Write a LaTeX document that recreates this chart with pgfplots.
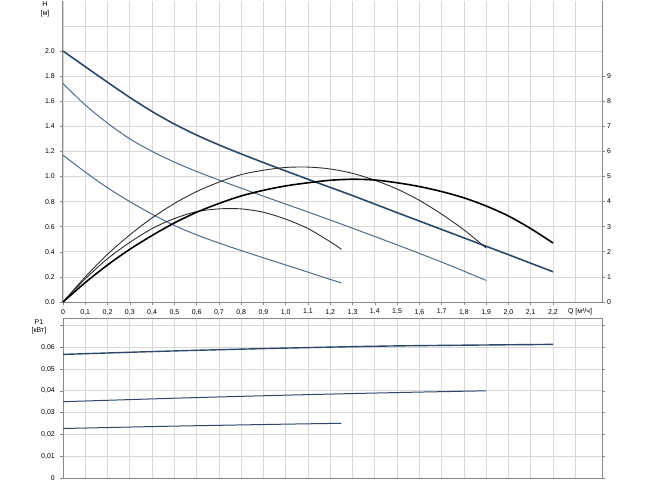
\documentclass[border=0pt]{standalone}
\usepackage{fontspec}
\setmainfont{Liberation Sans}
\usepackage{pgfplots}
\pgfplotsset{compat=1.18}
\definecolor{gridc}{HTML}{D8D8D8}
\definecolor{axc}{HTML}{888888}
\definecolor{bluethick}{HTML}{2B4A6B}
\definecolor{bluethin}{HTML}{506B88}
\definecolor{blk}{HTML}{2E2E2E}
\begin{document}
\begin{tikzpicture}[x=1bp,y=1bp]
\pgfplotsset{
  every axis/.append style={
    scale only axis, width=539bp,
    font=\fontsize{7}{8}\selectfont,
    /pgf/number format/assume math mode=true,
    scaled ticks=false,
    grid style={draw=gridc, line width=0.7bp},
    minor grid style={draw=gridc, line width=0.7bp},
    tick style={draw=axc, line width=0.6bp},
    tick align=outside, major tick length=3bp, minor tick length=0bp,
    xmin=0, xmax=2.42,
    every outer x axis line/.style={-},
    every outer y axis line/.style={-},
    axis line style={draw=axc, line width=1bp, -},
    xtick={0,0.1,0.2,0.3,0.4,0.5,0.6,0.7,0.8,0.9,1.0,1.1,1.2,1.3,1.4,1.5,1.6,1.7,1.8,1.9,2.0,2.1,2.2},
    minor xtick={2.3},
  }
}
% ---------------- top panel: H ----------------
\begin{axis}[at={(0,0)}, anchor=south west, height=301.2bp,
  ymin=0, ymax=2.4,
  axis x line*=bottom, axis y line*=left,
  xticklabels={0,{0,1},{0,2},{0,3},{0,4},{0,5},{0,6},{0,7},{0,8},{0,9},{1,0},{1,1},{1,2},{1,3},{1,4},{1,5},{1,6},{1,7},{1,8},{1,9},{2,0},{2,1},{2,2}},
  ytick={0,0.2,0.4,0.6,0.8,1.0,1.2,1.4,1.6,1.8,2.0},
  yticklabels={0.0,0.2,0.4,0.6,0.8,1.0,1.2,1.4,1.6,1.8,2.0},
  minor ytick={2.2},
  grid=both,
  xticklabel style={inner sep=1bp, yshift=-3bp},
  yticklabel style={inner sep=1bp, xshift=-4bp},
]
% pump curves
\addplot[bluethick, line width=1.6bp, smooth] coordinates {
(0,2.00)(0.1,1.875)(0.2,1.751)(0.3,1.630)(0.4,1.518)(0.5,1.418)(0.6,1.330)(0.7,1.252)(0.8,1.180)(0.9,1.111)(1.0,1.044)(1.1,0.978)(1.2,0.913)(1.3,0.848)(1.4,0.780)(1.5,0.712)(1.6,0.645)(1.7,0.578)(1.8,0.511)(1.9,0.444)(2.0,0.377)(2.1,0.309)(2.2,0.241)};
\addplot[bluethin, line width=1bp, smooth] coordinates {
(0,1.74)(0.1,1.57)(0.2,1.425)(0.3,1.30)(0.4,1.20)(0.5,1.115)(0.6,1.04)(0.7,0.972)(0.8,0.907)(0.9,0.843)(1.0,0.78)(1.1,0.717)(1.2,0.653)(1.3,0.588)(1.4,0.522)(1.5,0.455)(1.6,0.387)(1.7,0.318)(1.8,0.246)(1.9,0.172)};
\addplot[bluethin, line width=1bp, smooth] coordinates {
(0,1.17)(0.1,1.035)(0.2,0.91)(0.3,0.80)(0.4,0.70)(0.5,0.61)(0.6,0.535)(0.7,0.47)(0.8,0.41)(0.9,0.352)(1.0,0.295)(1.1,0.238)(1.2,0.18)(1.25,0.152)};
% efficiency curves
\addplot[blk, line width=0.9bp, smooth] coordinates {
(0,0)(0.1,0.20)(0.2,0.38)(0.3,0.535)(0.4,0.67)(0.5,0.785)(0.6,0.88)(0.7,0.955)(0.8,1.015)(0.9,1.05)(1.0,1.072)(1.1,1.075)(1.2,1.06)(1.3,1.025)(1.4,0.97)(1.5,0.90)(1.6,0.81)(1.7,0.70)(1.8,0.575)(1.9,0.43)};
\addplot[blk, line width=0.9bp, smooth] coordinates {
(0,0)(0.1,0.185)(0.2,0.345)(0.3,0.475)(0.4,0.585)(0.5,0.665)(0.6,0.72)(0.7,0.742)(0.8,0.742)(0.9,0.715)(1.0,0.66)(1.1,0.585)(1.2,0.48)(1.25,0.42)};
\addplot[black, line width=1.6bp, smooth] coordinates {
(0,0)(0.1,0.155)(0.2,0.295)(0.3,0.42)(0.4,0.53)(0.5,0.63)(0.6,0.715)(0.7,0.785)(0.8,0.845)(0.9,0.89)(1.0,0.925)(1.1,0.95)(1.2,0.97)(1.3,0.978)(1.4,0.972)(1.5,0.95)(1.6,0.92)(1.7,0.88)(1.8,0.83)(1.9,0.765)(2.0,0.685)(2.1,0.585)(2.2,0.47)};
\end{axis}
% right axis of top panel
\begin{axis}[at={(0,0)}, anchor=south west, height=301.2bp,
  ymin=0, ymax=12,
  axis y line*=right, axis x line=none,
  ytick={0,1,2,3,4,5,6,7,8,9},
  yticklabel style={inner sep=1bp, xshift=1bp},
]
\end{axis}
% ---------------- bottom panel: P1 ----------------
\begin{axis}[at={(0,-176bp)}, anchor=south west, height=160bp,
  ymin=0, ymax=0.0734,
  xticklabels={},
  xtick style={draw=none},
  ytick={0,0.01,0.02,0.03,0.04,0.05,0.06,0.07},
  yticklabels={0,{0,01},{0,02},{0,03},{0,04},{0,05},{0,06},{}},
  grid=both,
  yticklabel style={inner sep=1bp, xshift=-4bp},
]
\addplot[bluethick, line width=1.4bp, smooth] coordinates {
(0,0.0567)(0.5,0.0583)(1.0,0.0596)(1.5,0.0606)(2.2,0.0613)};
\addplot[bluethick, line width=1bp, smooth] coordinates {
(0,0.0350)(0.5,0.0366)(1.0,0.0380)(1.5,0.0392)(1.9,0.0400)};
\addplot[bluethick, line width=1bp, smooth] coordinates {
(0,0.0227)(0.5,0.0238)(1.0,0.0247)(1.25,0.0251)};
\end{axis}
% axis titles
\node[font=\fontsize{7}{8}\selectfont, inner sep=0] at (-18bp,298bp) {H};
\node[font=\fontsize{7}{8}\selectfont, inner sep=0] at (-18bp,288bp) {[м]};
\node[font=\fontsize{7}{8}\selectfont, inner sep=0] at (-24bp,-20bp) {P1};
\node[font=\fontsize{7}{8}\selectfont, inner sep=0] at (-24bp,-29bp) {[кВт]};
\node[font=\fontsize{7}{8}\selectfont, inner sep=0] at (517bp,-10bp) {Q [м³/ч]};
\pgfresetboundingbox
\path (-63bp,-184bp) rectangle (587bp,302bp);
\end{tikzpicture}
\end{document}
